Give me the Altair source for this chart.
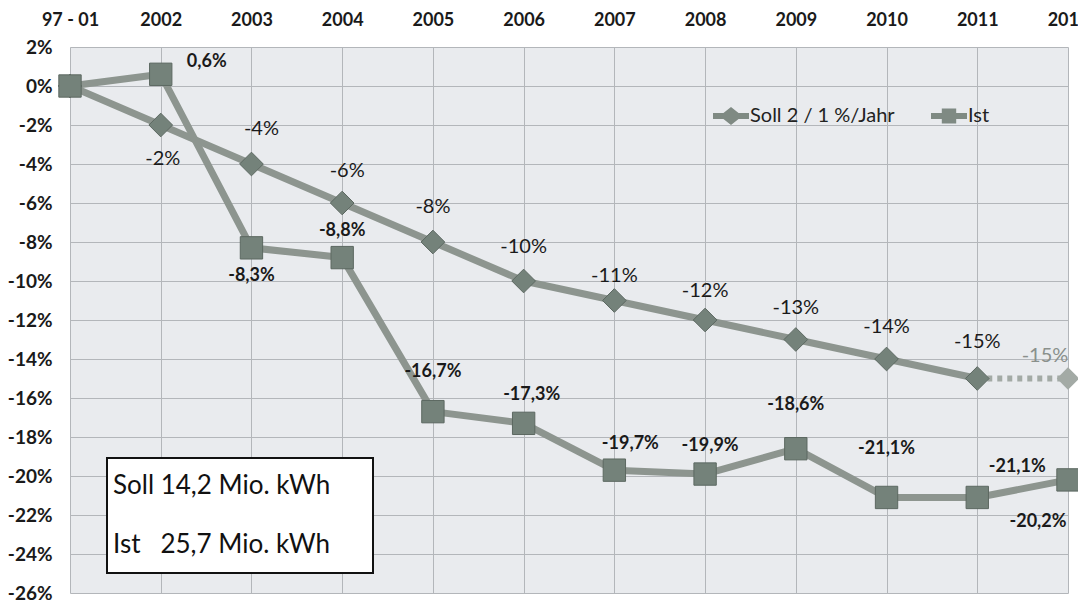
import altair as alt
import pandas as pd

# ---------------- data ----------------
YEARS = ["97 - 01", "2002", "2003", "2004", "2005", "2006", "2007", "2008",
         "2009", "2010", "2011", "2012"]
SOLL = [0, -2, -4, -6, -8, -10, -11, -12, -13, -14, -15, -15]
IST = [0, 0.6, -8.3, -8.8, -16.7, -17.3, -19.7, -19.9, -18.6, -21.1, -21.1, -20.2]
SERIES = ["Soll 2 / 1 %/Jahr", "Ist"]
Y_TICKS = list(range(2, -27, -2))
BOX_LINES = ["Soll 14,2 Mio. kWh", "Ist\u00a0\u00a0\u00a025,7 Mio. kWh"]

# ---------------- label placement (style) ----------------
SOLL_DX = [0, 2, 10, 5, 0, 0, 0, 0, 0, 0, 0, -23]
SOLL_DY = [0, 34, -35, -32, -35, -34, -25, -29, -32, -32, -37, -23]
IST_DX = [0, 46, 0, 0, 0, 8, 16, 5, 0, 0, 40, -30]
IST_DY = [0, -12, 28, -27, -40, -28, -26, -28, -44, -48, -30, 42]

FONT = "Lato"
LINE_C = "#8d958f"
MARK_C = "#74827a"
MARK_S = "#5c6861"
LIGHT_C = "#a3aaa5"

def de_pct(v, dec):
    s = f"{v:.{dec}f}".replace(".", ",")
    return s + "%"

df = pd.DataFrame({
    "year": YEARS,
    "idx": list(range(len(YEARS))),
    "soll": SOLL,
    "ist": IST,
    "soll_label": [de_pct(v, 0) for v in SOLL],
    "ist_label": [de_pct(v, 1) for v in IST],
})

long_df = pd.DataFrame({
    "year": YEARS * 2,
    "value": SOLL + IST,
    "series": [SERIES[0]] * len(YEARS) + [SERIES[1]] * len(YEARS),
})

x_enc = alt.X("year:N", sort=YEARS,
              scale=alt.Scale(type="point", padding=0),
              axis=alt.Axis(orient="top", title=None, labelAngle=0,
                            labelFont=FONT, labelFontWeight="bold",
                            labelFontSize=18, labelColor="#1a1a1a",
                            labelPadding=18, ticks=False, domain=False,
                            grid=True, gridColor="#b3b6ba", gridWidth=1))
y_scale = alt.Scale(domain=[-26, 2], nice=False, zero=False)
y_axis = alt.Axis(title=None, values=Y_TICKS, format="d",
                  labelExpr="datum.value + '%'",
                  labelFont=FONT, labelFontWeight="bold", labelFontSize=19,
                  labelColor="#1a1a1a", labelPadding=18, ticks=False,
                  domain=False, grid=True, gridColor="#b3b6ba", gridWidth=1)

base = alt.Chart(df)

soll_line = base.transform_filter("datum.idx <= 10").mark_line(
    color=LINE_C, strokeWidth=7, strokeJoin="round"
).encode(x=x_enc, y=alt.Y("soll:Q", scale=y_scale, axis=y_axis))

soll_proj = base.transform_filter("datum.idx >= 10").mark_line(
    color=LIGHT_C, strokeWidth=6, strokeDash=[5, 5]
).encode(x=x_enc, y=alt.Y("soll:Q", scale=y_scale, axis=y_axis))

ist_line = base.mark_line(
    color=LINE_C, strokeWidth=7, strokeJoin="round"
).encode(x=x_enc, y=alt.Y("ist:Q", scale=y_scale, axis=y_axis))

soll_pts = base.transform_filter("datum.idx <= 10").mark_point(
    shape="diamond", filled=True, size=560, color=MARK_C,
    stroke=MARK_S, strokeWidth=1, opacity=1
).encode(x=x_enc, y=alt.Y("soll:Q", scale=y_scale, axis=y_axis))

soll_pt_proj = base.transform_filter("datum.idx == 11").mark_point(
    shape="diamond", filled=True, size=500, color=LIGHT_C, opacity=1
).encode(x=x_enc, y=alt.Y("soll:Q", scale=y_scale, axis=y_axis))

ist_pts = base.mark_point(
    shape="square", filled=True, size=500, color=MARK_C,
    stroke=MARK_S, strokeWidth=1, opacity=1
).encode(x=x_enc, y=alt.Y("ist:Q", scale=y_scale, axis=y_axis))

text_layers = []
for i in range(1, len(YEARS)):
    col = "#8a908c" if i == 11 else "#1a1a1a"
    text_layers.append(
        base.transform_filter(f"datum.idx == {i}").mark_text(
            font=FONT, fontSize=20, color=col, dx=SOLL_DX[i], dy=SOLL_DY[i]
        ).encode(x=x_enc, y=alt.Y("soll:Q", scale=y_scale, axis=y_axis),
                 text="soll_label:N")
    )
    text_layers.append(
        base.transform_filter(f"datum.idx == {i}").mark_text(
            font=FONT, fontSize=18, fontWeight="bold", color="#1a1a1a",
            dx=IST_DX[i], dy=IST_DY[i]
        ).encode(x=x_enc, y=alt.Y("ist:Q", scale=y_scale, axis=y_axis),
                 text="ist_label:N")
    )

P_SOLL = ("M-1,-0.16L-0.42,-0.16L0,-0.5L0.42,-0.16L1,-0.16L1,0.16L0.42,0.16"
          "L0,0.5L-0.42,0.16L-1,0.16Z")
P_IST = ("M-1,-0.16L-0.4,-0.16L-0.4,-0.42L0.4,-0.42L0.4,-0.16L1,-0.16L1,0.16"
         "L0.4,0.16L0.4,0.42L-0.4,0.42L-0.4,0.16L-1,0.16Z")

legend_layer = alt.Chart(long_df).transform_filter("false").mark_point(
    filled=True, color="#7f8a83", size=1296
).encode(
    x=x_enc,
    y=alt.Y("value:Q", scale=y_scale, axis=y_axis),
    shape=alt.Shape("series:N",
                    scale=alt.Scale(domain=SERIES, range=[P_SOLL, P_IST]),
                    legend=alt.Legend(orient="none", legendX=643, legendY=51,
                                      direction="horizontal", title=None,
                                      labelFont=FONT, labelFontSize=20,
                                      labelColor="#222222", labelOffset=1,
                                      columnPadding=36, symbolSize=1296,
                                      symbolStrokeWidth=0,
                                      symbolFillColor="#808a84",
                                      symbolOpacity=1, padding=0)),
)

box = alt.Chart(df).transform_filter("datum.idx == 0").mark_rect(
    fill="white", stroke="#111111", strokeWidth=2
).encode(x=alt.value(37), x2=alt.value(303), y=alt.value(411), y2=alt.value(526))

box_text1 = alt.Chart(df).transform_filter("datum.idx == 0").mark_text(
    font=FONT, fontSize=26, color="#111111", align="left", baseline="middle"
).encode(x=alt.value(43), y=alt.value(439), text=alt.value(BOX_LINES[0]))

box_text2 = alt.Chart(df).transform_filter("datum.idx == 0").mark_text(
    font=FONT, fontSize=26, color="#111111", align="left", baseline="middle"
).encode(x=alt.value(43), y=alt.value(498), text=alt.value(BOX_LINES[1]))

chart = alt.layer(
    soll_line, soll_proj, ist_line, soll_pts, soll_pt_proj, ist_pts,
    *text_layers, legend_layer, box, box_text1, box_text2
).properties(
    width=998, height=546,
    autosize=alt.AutoSizeParams(type="none"),
    padding={"left": 62, "top": 39, "right": 10, "bottom": 12},
    background="white",
).configure_view(
    fill="#e9ebee", stroke=None
)

chart.save("out.html", embed_options={"renderer": "svg", "actions": False})
